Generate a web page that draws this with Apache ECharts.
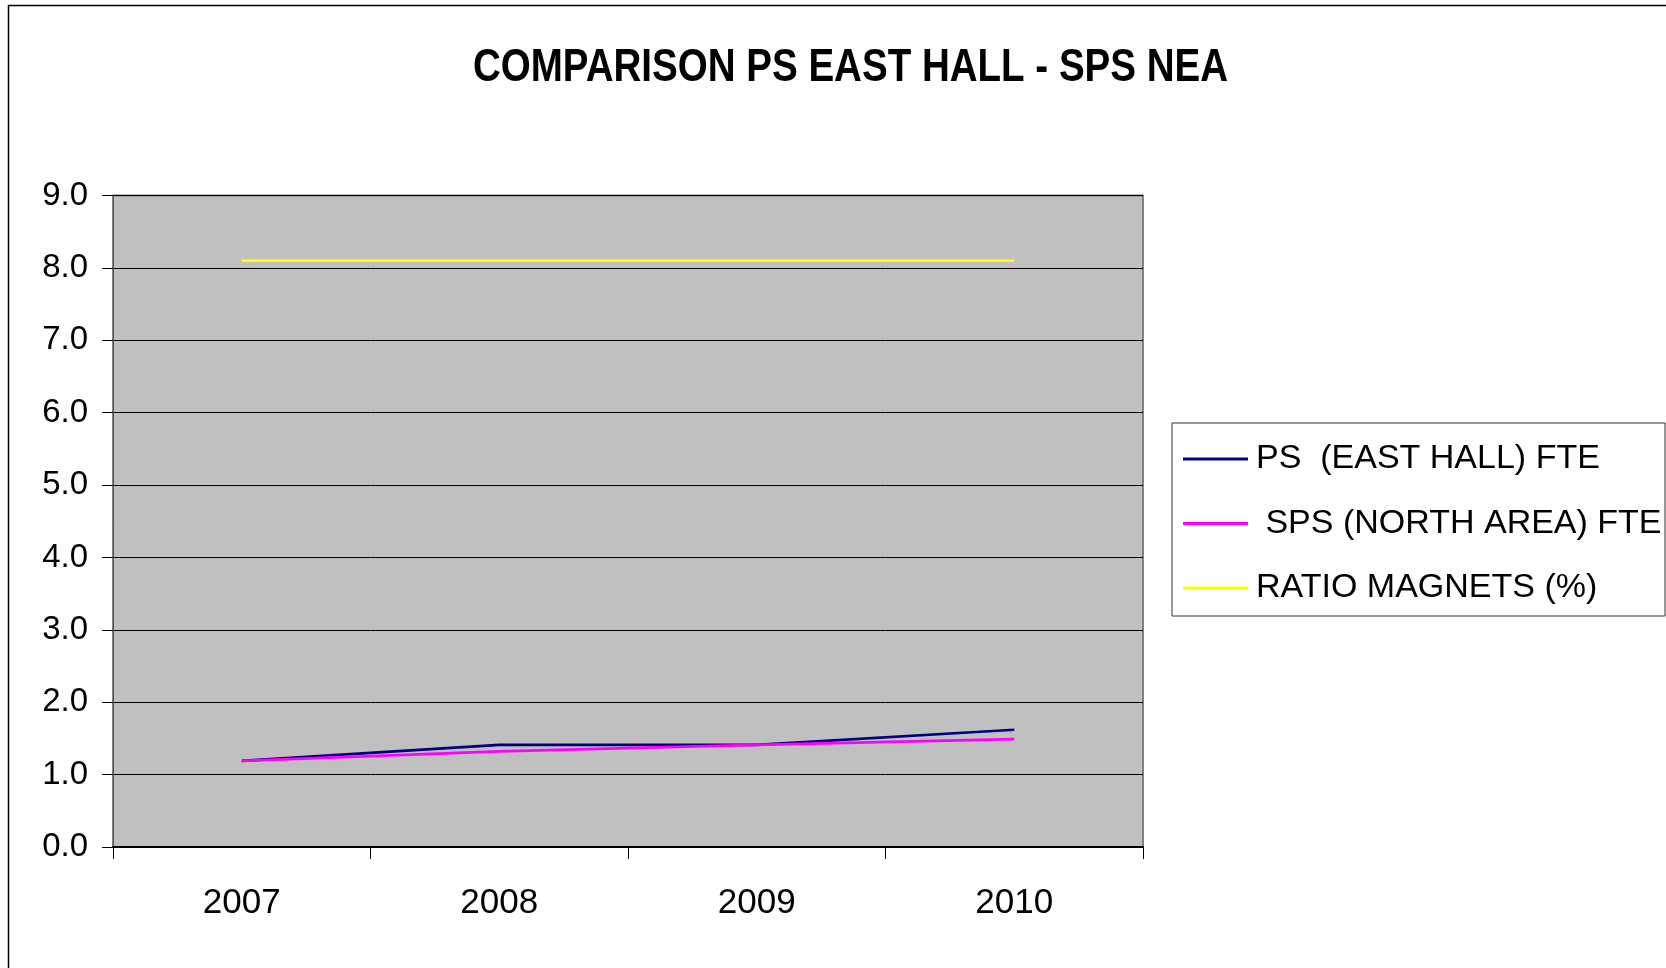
<!DOCTYPE html>
<html>
<head>
<meta charset="utf-8">
<title>COMPARISON PS EAST HALL - SPS NEA</title>
<script src="https://cdn.jsdelivr.net/npm/echarts@6/dist/echarts.min.js"></script>
<style>
  html, body { margin: 0; padding: 0; background: #fff; }
  #chart { width: 1666px; height: 968px; }
</style>
</head>
<body>
<div id="chart"></div>
<script>
// Years on the category axis
const years = ['2007', '2008', '2009', '2010'];

// Full-time equivalents per area
const psEastHallFte = [1.19, 1.41, 1.41, 1.62];
const spsNorthAreaFte = [1.19, 1.32, 1.41, 1.49];

// Magnet ratio in percent
const ratioMagnets = [8.1, 8.1, 8.1, 8.1];

const seriesNames = ['PS  (EAST HALL) FTE', ' SPS (NORTH AREA) FTE', 'RATIO MAGNETS (%)'];
const seriesColors = ['#000080', '#FF00FF', '#FFFF00'];

const titleText = 'COMPARISON PS EAST HALL - SPS NEA';
const FONT = '"Liberation Sans", Arial, sans-serif';

const chart = echarts.init(document.getElementById('chart'), null, { renderer: 'canvas' });

function lineSeries(name, data, color) {
  return {
    name: name,
    type: 'line',
    data: data,
    symbol: 'none',
    showSymbol: false,
    lineStyle: { color: color, width: 2.7 },
    itemStyle: { color: color },
    emphasis: { disabled: true },
    z: 3
  };
}

chart.setOption({
  animation: false,
  backgroundColor: '#ffffff',
  textStyle: { fontFamily: FONT },
  graphic: [
    // outer chart frame
    {
      type: 'rect',
      shape: { x: 8.5, y: 5.5, width: 1720, height: 1000 },
      style: { fill: null, stroke: '#000', lineWidth: 1.5 },
      silent: true,
      z: 0
    },
    // legend frame
    {
      type: 'rect',
      shape: { x: 1172, y: 423, width: 493, height: 193 },
      style: { fill: '#fff', stroke: '#333', lineWidth: 1 },
      silent: true,
      z: 1
    },
    // chart title (condensed bold face)
    {
      type: 'text',
      x: 850.5,
      y: 68,
      scaleX: 0.82,
      style: {
        text: titleText,
        font: 'bold 47px ' + FONT,
        fill: '#000',
        align: 'center',
        verticalAlign: 'middle'
      },
      silent: true,
      z: 5
    }
  ],
  legend: {
    orient: 'vertical',
    left: 1183,
    top: 439,
    padding: 0,
    itemWidth: 65,
    itemHeight: 3,
    itemGap: 24.5,
    icon: 'rect',
    selectedMode: false,
    textStyle: { fontSize: 34, color: '#000', lineHeight: 40, padding: [0, 0, 0, 3] },
    data: seriesNames,
    z: 4
  },
  grid: {
    left: 113,
    right: 523,
    top: 195.5,
    bottom: 121,
    show: true,
    backgroundColor: '#C0C0C0',
    borderColor: '#808080',
    borderWidth: 2
  },
  xAxis: {
    type: 'category',
    data: years,
    boundaryGap: true,
    axisLine: { show: true, lineStyle: { color: '#000', width: 2 } },
    axisTick: { show: true, length: 12, lineStyle: { color: '#000', width: 1 } },
    axisLabel: { fontSize: 35, color: '#000', margin: 39, fontFamily: FONT },
    splitLine: { show: false }
  },
  yAxis: {
    type: 'value',
    min: 0,
    max: 9,
    interval: 1,
    axisLine: { show: true, lineStyle: { color: '#555', width: 1 } },
    axisTick: { show: true, length: 11, lineStyle: { color: '#000', width: 1 } },
    axisLabel: {
      fontSize: 33,
      color: '#000',
      margin: 25,
      fontFamily: FONT,
      formatter: function (v) { return v.toFixed(1); }
    },
    splitLine: { show: true, lineStyle: { color: '#000', width: 1 } }
  },
  series: [
    lineSeries(seriesNames[0], psEastHallFte, seriesColors[0]),
    lineSeries(seriesNames[1], spsNorthAreaFte, seriesColors[1]),
    lineSeries(seriesNames[2], ratioMagnets, seriesColors[2])
  ]
});
</script>
</body>
</html>
